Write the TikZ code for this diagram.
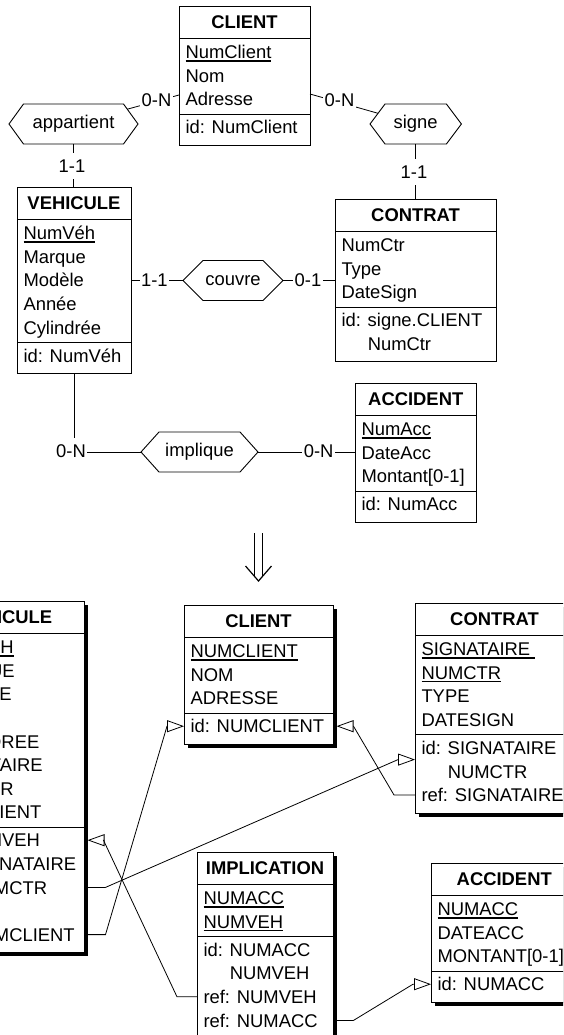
\documentclass[tikz,border=0pt]{standalone}
\usepackage{fontspec}
\setmainfont{Liberation Sans}
\usetikzlibrary{arrows.meta,calc}
\newcommand\uln[1]{\setbox0=\hbox{#1}\rlap{\rule[-3pt]{\wd0}{1.5pt}}\box0}
\newcommand\erfont{\fontsize{18.4}{22}\selectfont}
\tikzset{
  erBox/.style={draw=black, fill=white, line width=0.9pt, anchor=north west, inner sep=0pt, outer sep=0pt},
  erShadow/.style={fill=black, anchor=north west, inner sep=0pt, outer sep=0pt},
  erSep/.style={line width=0.9pt},
  erTitle/.style={font=\erfont\bfseries, anchor=base, inner sep=0pt},
  erAtt/.style={anchor=base west, inner sep=0pt},
  erHex/.style={inner sep=0pt, outer sep=0pt, minimum height=40pt, text height=13.2pt, text depth=3.9pt},
  erHexLine/.style={line width=0.9pt, fill=white},
  erConn/.style={line width=0.8pt},
  erRef/.style={erConn, -{Triangle[open,length=17pt,width=12pt]}},
  erLbl/.style={fill=white, inner xsep=1.5pt, inner ysep=6pt, text height=13.2pt, text depth=0pt},
  erDown/.style={line width=1.2pt}
}
% #1 name, #2 left, #3 top, #4 right, #5 title, #6 attributes, #7 constraints, #8 shadow
\newcommand\erbox[8]{%
  \pgfmathsetmacro\bxL{#2}%
  \pgfmathsetmacro\bxT{#3}%
  \pgfmathsetmacro\bxR{#4}%
  \foreach \a [count=\i] in {#6} {\xdef\nA{\i}}%
  \foreach \a [count=\i] in {#7} {\xdef\nC{\i}}%
  \pgfmathsetmacro\sepA{\bxT+32}%
  \pgfmathsetmacro\sepB{\bxT+46+(\nA-1)*23.6+15}%
  \pgfmathsetmacro\bxB{\sepB+13+(\nC-1)*23.6+18}%
  \pgfmathsetmacro\bxW{\bxR-\bxL}%
  \pgfmathsetmacro\bxH{\bxB-\bxT}%
  \ifnum#8=1
    \node[erShadow, minimum width=\bxW pt, minimum height=\bxH pt] (#1-sh) at (\bxL+3.5,\bxT+3.5) {};
  \fi
  \node[erBox, minimum width=\bxW pt, minimum height=\bxH pt] (#1) at (\bxL,\bxT) {};
  \node[erTitle] (#1-t) at ({(\bxL+\bxR)/2},\bxT+22.6) {#5};
  \draw[erSep] (\bxL,\sepA) -- (\bxR,\sepA);
  \draw[erSep] (\bxL,\sepB) -- (\bxR,\sepB);
  \foreach \a [count=\i] in {#6} {%
    \pgfmathsetmacro\yy{\bxT+46+(\i-1)*23.6}%
    \coordinate (#1-a\i) at (\bxL,\yy);
    \node[erAtt] (#1-at\i) at (\bxL+6.3,\yy+6.6) {\a};
  }%
  \foreach \a [count=\i] in {#7} {%
    \pgfmathsetmacro\yy{\sepB+13+(\i-1)*23.6}%
    \coordinate (#1-c\i) at (\bxL,\yy);
    \node[erAtt] (#1-ct\i) at (\bxL+6.3,\yy+6.6) {\a};
  }%
}
% #1 name, #2 left, #3 right, #4 centre y, #5 slant, #6 text
\newcommand\erhex[6]{%
  \pgfmathsetmacro\hxW{#3-#2}%
  \pgfmathsetmacro\hxC{(#2+#3)/2}%
  \draw[erHexLine] (#2,#4) -- (#2+#5,#4-20) -- (#3-#5,#4-20) -- (#3,#4) -- (#3-#5,#4+20) -- (#2+#5,#4+20) -- cycle;
  \node[erHex, minimum width=\hxW pt] (#1) at (\hxC,#4) {#6};
}
\begin{document}
\begin{tikzpicture}[x=1pt, y=-1pt, font=\erfont]
\useasboundingbox (0,0) rectangle (563,1035);
\clip (0,0) rectangle (563,1035);

% ---------- conceptual schema ----------
\erbox{c1}{179}{6}{310}{CLIENT}{\uln{NumClient},Nom,Adresse}{id: NumClient}{0}
\erbox{v1}{17}{187}{131}{VEHICULE}{\uln{NumVéh},Marque,Modèle,Année,Cylindrée}{id: NumVéh}{0}
\erbox{k1}{335}{199}{496}{CONTRAT}{NumCtr,Type,DateSign}{id: signe.CLIENT,\phantom{id: }NumCtr}{0}
\erbox{a1}{355}{383}{476.5}{ACCIDENT}{\uln{NumAcc},DateAcc,{Montant[0-1]}}{id: NumAcc}{0}

\erhex{app}{9}{138}{124}{14.5}{appartient}
\erhex{sig}{370}{461.4}{124}{15}{signe}
\erhex{cou}{183}{283}{280.5}{20}{couvre}
\erhex{imp}{141}{258}{452}{18}{implique}

\coordinate (app-o) at (127.3,109.2);
\coordinate (c1-w) at (179,95);
\coordinate (c1-e) at (310,94);
\coordinate (sig-o) at (378,113.3);

\draw[erConn] (app-o) -- (c1-w);
\draw[erConn] (c1-e) -- (sig-o);
\draw[erConn] (app.south) -- (app.south |- v1.north);
\draw[erConn] (sig.south) -- (sig.south |- k1.north);
\draw[erConn] (v1.east |- cou.west) -- (cou.west);
\draw[erConn] (cou.east) -- (cou.east -| k1.west);
\draw[erConn] (v1.south) |- (imp.west);
\draw[erConn] (imp.east) -- (imp.east -| a1.west);

\node[erLbl] (l1) at (156.5,100) {0-N};
\node[erLbl] (l2) at (339.5,100) {0-N};
\node[erLbl] (l3) at (72,166) {1-1};
\node[erLbl] (l4) at (414,172) {1-1};
\node[erLbl] (l5) at (154.4,280) {1-1};
\node[erLbl] (l6) at (308,280) {0-1};
\node[erLbl] (l7) at (71,451) {0-N};
\node[erLbl] (l8) at (318.7,451) {0-N};

% ---------- transformation arrow ----------
\draw[erDown] (254.5,533) -- (254.5,576.4);
\draw[erDown] (262.5,533) -- (262.5,576.4);
\draw[erDown, line join=miter] (245.5,566) -- (258.5,581) -- (271.5,566);

% ---------- relational schema ----------
\erbox{v2}{-72.5}{601}{84}{VEHICULE}{\uln{NUMVEH},MARQUE,MODELE,ANNEE,CYLINDREE,SIGNATAIRE,NUMCTR,NUMCLIENT}{id: NUMVEH,ref: SIGNATAIRE,\phantom{ref: }NUMCTR,{},ref: NUMCLIENT}{1}
\erbox{c2}{184}{605}{333}{CLIENT}{\uln{NUMCLIENT},NOM,ADRESSE}{id: NUMCLIENT}{1}
\erbox{k2}{415}{603}{574}{CONTRAT}{\uln{SIGNATAIRE\ },\uln{NUMCTR},TYPE,DATESIGN}{id: SIGNATAIRE,\phantom{id: }NUMCTR,ref: SIGNATAIRE}{1}
\erbox{i2}{197}{852}{333}{IMPLICATION}{\uln{NUMACC},\uln{NUMVEH}}{id: NUMACC,\phantom{id: }NUMVEH,ref: NUMVEH,ref: NUMACC}{1}
\erbox{a2}{431}{863}{577.5}{ACCIDENT}{\uln{NUMACC},DATEACC,{MONTANT[0-1]}}{id: NUMACC}{1}

\coordinate (k2-id) at ($(k2-c1)!0.5!(k2-c2)$);

\draw[erRef] (v2-sh.east |- v2-c5) -- ++(18,0) -- ($(c2.west |- c2-c1)+(-17,0)$) -- (c2.west |- c2-c1);
\draw[erRef] (v2-sh.east |- v2-c3) -- ++(18,0) -- ($(k2-id)+(-17,0)$) -- (k2-id);
\draw[erRef] (i2.west |- i2-c3) -- ++(-20,0) -- ($(v2-sh.east |- v2-c1)+(16,0)$) -- (v2-sh.east |- v2-c1);
\draw[erRef] (k2.west |- k2-c3) -- ++(-21,0) -- ($(c2-sh.east |- c2-c1)+(17,0)$) -- (c2-sh.east |- c2-c1);
\draw[erRef] (i2-sh.east |- i2-c4) -- ++(17,0) -- ($(a2.west |- a2-c1)+(-18,0)$) -- (a2.west |- a2-c1);
\end{tikzpicture}
\end{document}
